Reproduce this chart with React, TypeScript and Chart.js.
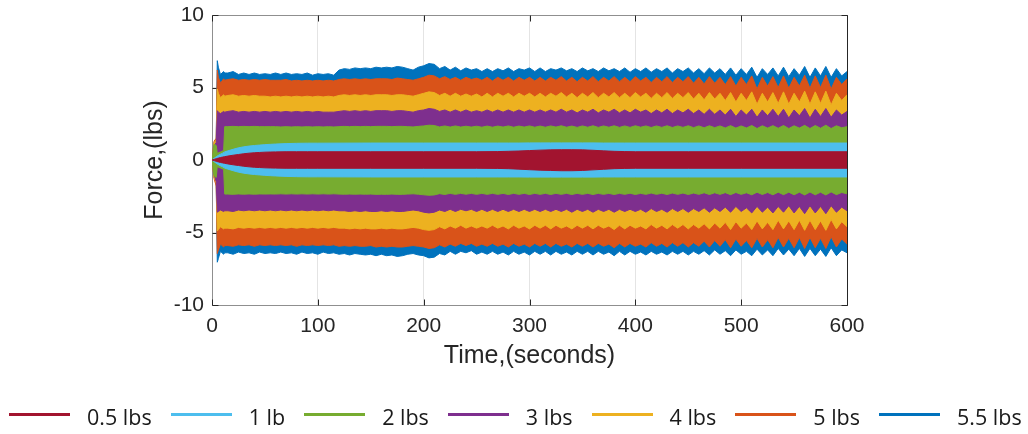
import React, { useEffect, useRef } from "react";
import { Chart, registerables } from "chart.js";

Chart.register(...registerables);

// ---------- data ----------
const SERIES_LABELS = ["0.5 lbs", "1 lb", "2 lbs", "3 lbs", "4 lbs", "5 lbs", "5.5 lbs"];
const SERIES_COLORS = ["#A2142F", "#4DBEEE", "#77AC30", "#7E2F8E", "#EDB120", "#D95319", "#0072BD"];

const X_TICKS = [0, 100, 200, 300, 400, 500, 600];
const Y_TICKS = [-10, -5, 0, 5, 10];

// time base (s) for the oscillating outer bands
const TIME = [0, 2, 4, 5, 6, 8, 11, 12,
  15, 20, 25, 30, 35, 40, 45, 50, 55, 60,
  65, 70, 75, 80, 85, 90, 95, 100, 105, 110,
  115, 120, 125, 130, 135, 140, 145, 150, 155, 160,
  165, 170, 175, 180, 185, 190, 195, 200, 205, 210,
  215, 220, 225, 230, 235, 240, 245, 250, 255, 260,
  265, 270, 275, 280, 285, 290, 295, 300, 305, 310,
  315, 320, 325, 330, 335, 340, 345, 350, 355, 360,
  365, 370, 375, 380, 385, 390, 395, 400, 405, 410,
  415, 420, 425, 430, 435, 440, 445, 450, 455, 460,
  465, 470, 475, 480, 485, 490, 495, 500, 505, 510,
  515, 520, 525, 530, 535, 540, 545, 550, 555, 560,
  565, 570, 575, 580, 585, 590, 595, 600];

// time base (s) for the smooth inner bands
const TIME_SMOOTH = [0, 2, 4, 6, 8, 10, 12, 15, 20, 25, 30, 35, 40, 45, 50, 55, 60, 70, 80, 90, 100,
  150, 200, 250, 270, 280, 290, 300, 310, 320, 330, 340, 350, 360, 370, 380, 390, 400, 450, 500, 550, 600];

// envelopes (lbs)
const F05_UP = [0, 0.04, 0.09, 0.13, 0.17, 0.2, 0.23, 0.27, 0.33, 0.38, 0.43, 0.47, 0.5, 0.52, 0.54, 0.55, 0.56, 0.57, 0.57, 0.57, 0.57,
  0.57, 0.57, 0.57, 0.58, 0.6, 0.62, 0.65, 0.68, 0.7, 0.71, 0.71, 0.7, 0.67, 0.63, 0.6, 0.58, 0.57, 0.57, 0.57, 0.57, 0.57];
const F05_LO = [0, -0.04, -0.09, -0.13, -0.17, -0.2, -0.23, -0.27, -0.33, -0.38, -0.43, -0.47, -0.5, -0.52, -0.54, -0.55, -0.56, -0.57, -0.57, -0.57, -0.57,
  -0.57, -0.57, -0.57, -0.58, -0.6, -0.63, -0.67, -0.7, -0.72, -0.74, -0.74, -0.72, -0.68, -0.64, -0.6, -0.58, -0.57, -0.57, -0.57, -0.57, -0.57];

const F1_UP = [0, 0.12, 0.22, 0.32, 0.4, 0.47, 0.56, 0.63, 0.74, 0.84, 0.91, 0.96, 1.0, 1.03, 1.06, 1.08, 1.1, 1.13, 1.15, 1.16, 1.16,
  1.17, 1.17, 1.17, 1.17, 1.17, 1.17, 1.18, 1.18, 1.18, 1.18, 1.18, 1.18, 1.18, 1.17, 1.17, 1.17, 1.17, 1.17, 1.17, 1.17, 1.17];
const F1_LO = [0, -0.12, -0.22, -0.32, -0.4, -0.47, -0.56, -0.63, -0.74, -0.84, -0.91, -0.96, -1.0, -1.03, -1.06, -1.08, -1.1, -1.13, -1.15, -1.16, -1.16,
  -1.17, -1.17, -1.17, -1.17, -1.17, -1.17, -1.18, -1.18, -1.18, -1.18, -1.18, -1.18, -1.18, -1.17, -1.17, -1.17, -1.17, -1.17, -1.17, -1.17, -1.17];

const F2_UP = [0, 1.1, 1.0, 0.45, 0.5, 0.55, 0.65, 2.3,
  2.3, 2.32, 2.3, 2.32, 2.3, 2.32, 2.3, 2.3, 2.3, 2.3,
  2.28, 2.3, 2.28, 2.3, 2.28, 2.3, 2.28, 2.3, 2.28, 2.3,
  2.28, 2.3, 2.32, 2.3, 2.32, 2.3, 2.32, 2.3, 2.32, 2.32,
  2.32, 2.3, 2.32, 2.32, 2.3, 2.28, 2.32, 2.35, 2.4, 2.38,
  2.28, 2.35, 2.27, 2.35, 2.27, 2.33, 2.27, 2.33, 2.26, 2.34,
  2.26, 2.34, 2.27, 2.35, 2.26, 2.34, 2.27, 2.35, 2.26, 2.34,
  2.26, 2.35, 2.27, 2.36, 2.26, 2.34, 2.25, 2.35, 2.26, 2.36,
  2.25, 2.35, 2.26, 2.36, 2.25, 2.35, 2.25, 2.36, 2.26, 2.35,
  2.24, 2.35, 2.25, 2.36, 2.24, 2.35, 2.25, 2.36, 2.23, 2.35,
  2.22, 2.36, 2.23, 2.35, 2.21, 2.37, 2.2, 2.35, 2.21, 2.38,
  2.17, 2.36, 2.2, 2.37, 2.19, 2.38, 2.17, 2.36, 2.2, 2.39,
  2.17, 2.38, 2.19, 2.4, 2.17, 2.36, 2.22, 2.3];
const F2_LO = [0, -1.1, -1.2, -0.45, -0.5, -0.55, -0.65, -2.35,
  -2.35, -2.37, -2.34, -2.36, -2.34, -2.36, -2.34, -2.35, -2.34, -2.35,
  -2.33, -2.35, -2.33, -2.35, -2.33, -2.35, -2.33, -2.35, -2.33, -2.35,
  -2.33, -2.35, -2.36, -2.35, -2.36, -2.35, -2.36, -2.35, -2.37, -2.36,
  -2.37, -2.35, -2.37, -2.37, -2.35, -2.33, -2.36, -2.4, -2.43, -2.41,
  -2.32, -2.38, -2.3, -2.37, -2.3, -2.36, -2.3, -2.37, -2.3, -2.37,
  -2.3, -2.37, -2.3, -2.38, -2.3, -2.37, -2.3, -2.38, -2.3, -2.37,
  -2.3, -2.38, -2.3, -2.37, -2.3, -2.38, -2.3, -2.37, -2.3, -2.38,
  -2.3, -2.37, -2.3, -2.38, -2.3, -2.37, -2.29, -2.38, -2.3, -2.37,
  -2.28, -2.37, -2.29, -2.38, -2.28, -2.37, -2.28, -2.38, -2.28, -2.37,
  -2.26, -2.38, -2.26, -2.37, -2.25, -2.39, -2.24, -2.37, -2.26, -2.4,
  -2.22, -2.38, -2.24, -2.4, -2.22, -2.39, -2.22, -2.4, -2.22, -2.41,
  -2.21, -2.4, -2.22, -2.41, -2.2, -2.39, -2.24, -2.33];

const F3_UP = [0, 1.0, 1.2, 3.4, 3.3, 3.2, 3.35, 3.3,
  3.35, 3.4, 3.3, 3.35, 3.3, 3.35, 3.3, 3.35, 3.3, 3.35,
  3.3, 3.35, 3.3, 3.35, 3.3, 3.35, 3.3, 3.35, 3.3, 3.3,
  3.3, 3.35, 3.4, 3.35, 3.4, 3.35, 3.4, 3.35, 3.4, 3.4,
  3.4, 3.35, 3.4, 3.4, 3.35, 3.3, 3.4, 3.45, 3.55, 3.5,
  3.35, 3.45, 3.3, 3.45, 3.3, 3.45, 3.3, 3.4, 3.3, 3.45,
  3.3, 3.45, 3.3, 3.45, 3.3, 3.45, 3.3, 3.45, 3.3, 3.45,
  3.3, 3.45, 3.3, 3.5, 3.3, 3.45, 3.25, 3.45, 3.3, 3.5,
  3.25, 3.45, 3.3, 3.5, 3.25, 3.45, 3.25, 3.5, 3.3, 3.45,
  3.2, 3.45, 3.25, 3.5, 3.2, 3.45, 3.25, 3.5, 3.2, 3.45,
  3.15, 3.5, 3.15, 3.45, 3.1, 3.5, 3.0, 3.45, 3.1, 3.5,
  2.95, 3.45, 3.05, 3.5, 3.0, 3.5, 2.9, 3.45, 3.05, 3.55,
  2.9, 3.5, 3.0, 3.55, 2.95, 3.45, 3.1, 3.35];
const F3_LO = [0, -1.0, -1.5, -3.6, -3.55, -3.45, -3.55, -3.5,
  -3.5, -3.55, -3.45, -3.5, -3.45, -3.5, -3.45, -3.5, -3.45, -3.5,
  -3.45, -3.5, -3.45, -3.5, -3.45, -3.5, -3.45, -3.5, -3.45, -3.5,
  -3.45, -3.5, -3.5, -3.55, -3.5, -3.55, -3.5, -3.55, -3.55, -3.5,
  -3.55, -3.5, -3.55, -3.55, -3.5, -3.45, -3.5, -3.6, -3.65, -3.6,
  -3.45, -3.55, -3.4, -3.55, -3.4, -3.5, -3.4, -3.55, -3.4, -3.55,
  -3.4, -3.55, -3.4, -3.55, -3.4, -3.55, -3.4, -3.55, -3.4, -3.55,
  -3.4, -3.55, -3.4, -3.55, -3.4, -3.6, -3.4, -3.55, -3.4, -3.6,
  -3.4, -3.55, -3.4, -3.6, -3.4, -3.55, -3.4, -3.55, -3.4, -3.6,
  -3.35, -3.55, -3.4, -3.6, -3.35, -3.55, -3.35, -3.6, -3.35, -3.55,
  -3.3, -3.6, -3.3, -3.55, -3.25, -3.6, -3.2, -3.55, -3.3, -3.65,
  -3.2, -3.6, -3.25, -3.65, -3.2, -3.6, -3.15, -3.65, -3.2, -3.7,
  -3.15, -3.65, -3.2, -3.7, -3.15, -3.6, -3.25, -3.5];

const F4_UP = [0, 1.2, 1.4, 4.9, 4.6, 4.3, 4.5, 4.4,
  4.45, 4.5, 4.4, 4.45, 4.4, 4.45, 4.4, 4.4, 4.35, 4.4,
  4.35, 4.4, 4.35, 4.4, 4.35, 4.4, 4.35, 4.4, 4.35, 4.4,
  4.35, 4.45, 4.5, 4.45, 4.5, 4.45, 4.5, 4.45, 4.5, 4.5,
  4.5, 4.45, 4.5, 4.5, 4.45, 4.4, 4.5, 4.6, 4.7, 4.65,
  4.45, 4.6, 4.4, 4.6, 4.4, 4.55, 4.4, 4.55, 4.35, 4.6,
  4.35, 4.6, 4.4, 4.6, 4.35, 4.6, 4.4, 4.6, 4.35, 4.6,
  4.35, 4.6, 4.4, 4.65, 4.35, 4.6, 4.3, 4.6, 4.35, 4.65,
  4.3, 4.6, 4.35, 4.65, 4.3, 4.6, 4.3, 4.65, 4.35, 4.6,
  4.25, 4.6, 4.3, 4.65, 4.25, 4.6, 4.3, 4.65, 4.2, 4.6,
  4.15, 4.65, 4.2, 4.6, 4.1, 4.65, 4.0, 4.6, 4.1, 4.7,
  3.85, 4.6, 4.0, 4.65, 3.9, 4.7, 3.85, 4.6, 4.0, 4.75,
  3.85, 4.7, 3.9, 4.75, 3.8, 4.6, 4.1, 4.5];
const F4_LO = [0, -1.2, -1.6, -4.9, -4.8, -4.6, -4.75, -4.7,
  -4.7, -4.75, -4.65, -4.7, -4.65, -4.7, -4.65, -4.7, -4.65, -4.7,
  -4.65, -4.7, -4.65, -4.7, -4.65, -4.7, -4.65, -4.7, -4.65, -4.7,
  -4.65, -4.7, -4.7, -4.75, -4.7, -4.75, -4.7, -4.75, -4.75, -4.7,
  -4.75, -4.7, -4.75, -4.75, -4.7, -4.65, -4.7, -4.8, -4.85, -4.8,
  -4.6, -4.75, -4.55, -4.7, -4.5, -4.7, -4.55, -4.7, -4.55, -4.7,
  -4.5, -4.7, -4.55, -4.75, -4.5, -4.7, -4.55, -4.75, -4.5, -4.7,
  -4.5, -4.75, -4.5, -4.7, -4.55, -4.75, -4.5, -4.7, -4.5, -4.75,
  -4.5, -4.7, -4.55, -4.8, -4.5, -4.75, -4.5, -4.7, -4.55, -4.75,
  -4.45, -4.7, -4.5, -4.75, -4.45, -4.7, -4.45, -4.75, -4.45, -4.7,
  -4.4, -4.75, -4.35, -4.7, -4.3, -4.8, -4.25, -4.7, -4.35, -4.8,
  -4.2, -4.75, -4.3, -4.8, -4.15, -4.75, -4.2, -4.8, -4.15, -4.85,
  -4.15, -4.8, -4.2, -4.85, -4.1, -4.75, -4.25, -4.6];

const F5_UP = [0, 1.3, 1.5, 6.2, 5.7, 5.3, 5.6, 5.5,
  5.55, 5.6, 5.5, 5.55, 5.5, 5.55, 5.5, 5.55, 5.5, 5.5,
  5.5, 5.55, 5.45, 5.5, 5.45, 5.5, 5.45, 5.5, 5.45, 5.5,
  5.45, 5.55, 5.6, 5.55, 5.6, 5.55, 5.6, 5.55, 5.6, 5.6,
  5.6, 5.55, 5.65, 5.6, 5.55, 5.5, 5.6, 5.7, 5.85, 5.8,
  5.6, 5.75, 5.55, 5.7, 5.5, 5.7, 5.55, 5.65, 5.5, 5.7,
  5.45, 5.7, 5.5, 5.7, 5.45, 5.7, 5.5, 5.7, 5.45, 5.7,
  5.45, 5.7, 5.5, 5.75, 5.45, 5.7, 5.4, 5.7, 5.45, 5.75,
  5.4, 5.7, 5.45, 5.75, 5.4, 5.7, 5.4, 5.75, 5.45, 5.7,
  5.35, 5.7, 5.4, 5.75, 5.35, 5.7, 5.4, 5.75, 5.3, 5.7,
  5.25, 5.75, 5.3, 5.7, 5.2, 5.75, 5.1, 5.7, 5.2, 5.8,
  4.9, 5.7, 5.1, 5.75, 5.0, 5.8, 4.95, 5.7, 5.1, 5.85,
  4.95, 5.8, 5.0, 5.85, 4.9, 5.7, 5.2, 5.6];
const F5_LO = [0, -1.3, -1.8, -6.45, -6.2, -5.8, -6.0, -5.9,
  -5.9, -5.95, -5.85, -5.9, -5.85, -5.95, -5.85, -5.9, -5.85, -5.9,
  -5.85, -5.9, -5.85, -5.95, -5.85, -5.9, -5.85, -5.9, -5.85, -5.9,
  -5.85, -5.95, -5.9, -5.95, -5.9, -5.95, -5.95, -5.9, -6.0, -5.95,
  -6.0, -5.95, -6.0, -6.0, -5.95, -5.9, -5.95, -6.0, -6.1, -6.05,
  -5.85, -6.0, -5.8, -5.95, -5.75, -5.9, -5.75, -5.95, -5.8, -5.95,
  -5.75, -5.95, -5.8, -6.0, -5.75, -5.95, -5.8, -6.0, -5.75, -5.95,
  -5.75, -6.0, -5.75, -5.95, -5.8, -6.0, -5.75, -5.95, -5.75, -6.0,
  -5.75, -5.95, -5.8, -6.05, -5.75, -6.0, -5.75, -5.95, -5.8, -6.0,
  -5.7, -5.95, -5.75, -6.0, -5.7, -5.95, -5.7, -6.0, -5.7, -5.95,
  -5.6, -6.0, -5.55, -5.95, -5.5, -6.05, -5.45, -5.95, -5.55, -6.05,
  -5.4, -6.0, -5.5, -6.05, -5.35, -6.0, -5.4, -6.05, -5.35, -6.1,
  -5.35, -6.05, -5.4, -6.1, -5.3, -6.0, -5.45, -5.8];

const F55_UP = [0, 1.2, 1.5, 6.85, 6.4, 5.9, 6.1, 6.0,
  6.0, 6.1, 5.9, 6.0, 5.9, 6.0, 5.9, 5.95, 5.9, 6.0,
  5.9, 6.0, 5.9, 5.95, 5.9, 6.0, 5.85, 5.95, 5.9, 5.95,
  5.85, 6.2, 6.3, 6.25, 6.35, 6.3, 6.35, 6.3, 6.4, 6.35,
  6.4, 6.35, 6.45, 6.4, 6.3, 6.2, 6.4, 6.5, 6.65, 6.6,
  6.3, 6.45, 6.2, 6.4, 6.15, 6.35, 6.2, 6.3, 6.1, 6.3,
  6.1, 6.3, 6.15, 6.35, 6.1, 6.3, 6.2, 6.35, 6.1, 6.35,
  6.1, 6.3, 6.2, 6.35, 6.15, 6.3, 6.1, 6.35, 6.15, 6.3,
  6.1, 6.35, 6.15, 6.3, 6.1, 6.35, 6.05, 6.3, 6.1, 6.35,
  6.05, 6.3, 6.1, 6.35, 6.0, 6.3, 6.1, 6.35, 6.0, 6.3,
  5.95, 6.35, 6.0, 6.3, 5.9, 6.35, 5.85, 6.3, 5.9, 6.4,
  5.7, 6.3, 5.9, 6.35, 5.8, 6.4, 5.75, 6.3, 5.85, 6.45,
  5.7, 6.35, 5.8, 6.45, 5.7, 6.3, 5.8, 6.1];
const F55_LO = [0, -1.2, -1.6, -7.05, -6.8, -6.3, -6.5, -6.4,
  -6.4, -6.5, -6.35, -6.45, -6.4, -6.5, -6.35, -6.45, -6.4, -6.45,
  -6.35, -6.45, -6.4, -6.5, -6.35, -6.45, -6.4, -6.5, -6.35, -6.45,
  -6.4, -6.5, -6.45, -6.55, -6.45, -6.5, -6.55, -6.5, -6.6, -6.5,
  -6.6, -6.55, -6.65, -6.6, -6.5, -6.45, -6.55, -6.6, -6.75, -6.7,
  -6.45, -6.55, -6.3, -6.5, -6.3, -6.4, -6.25, -6.5, -6.35, -6.5,
  -6.3, -6.5, -6.35, -6.55, -6.3, -6.5, -6.35, -6.55, -6.3, -6.5,
  -6.3, -6.55, -6.3, -6.5, -6.35, -6.55, -6.3, -6.5, -6.3, -6.55,
  -6.3, -6.5, -6.35, -6.6, -6.3, -6.55, -6.3, -6.5, -6.35, -6.55,
  -6.3, -6.5, -6.35, -6.55, -6.3, -6.5, -6.3, -6.55, -6.3, -6.5,
  -6.25, -6.55, -6.2, -6.5, -6.25, -6.6, -6.2, -6.5, -6.3, -6.6,
  -6.15, -6.55, -6.2, -6.6, -6.1, -6.55, -6.15, -6.6, -6.1, -6.65,
  -6.1, -6.6, -6.15, -6.65, -6.05, -6.6, -6.2, -6.4];

// per-series: [time base, upper envelope, lower envelope]
const SERIES_DATA: [number[], number[], number[]][] = [
  [TIME_SMOOTH, F05_UP, F05_LO],
  [TIME_SMOOTH, F1_UP, F1_LO],
  [TIME, F2_UP, F2_LO],
  [TIME, F3_UP, F3_LO],
  [TIME, F4_UP, F4_LO],
  [TIME, F5_UP, F5_LO],
  [TIME, F55_UP, F55_LO],
];

// ---------- styling ----------
const AXIS_FONT = "'Liberation Sans', Arial, sans-serif";
const LEGEND_FONT = "'Open Sans', 'Liberation Sans', sans-serif";
const TEXT_COLOR = "#262626";

const framePlugin = {
  id: "matlabFrame",
  beforeDatasetsDraw(chart: any) {
    const { ctx, chartArea: a, scales } = chart;
    const L = Math.round(a.left) + 0.5;
    const R = Math.round(a.right) + 0.5;
    const T = Math.round(a.top) + 0.5;
    const B = Math.round(a.bottom) + 0.5;
    ctx.save();
    ctx.lineWidth = 1;
    ctx.strokeStyle = "#8f8f8f";
    ctx.beginPath();
    ctx.moveTo(R, T);
    ctx.lineTo(L, T);
    ctx.lineTo(L, B);
    ctx.lineTo(R, B);
    ctx.stroke();
    ctx.strokeStyle = "#262626";
    ctx.beginPath();
    ctx.moveTo(R, T);
    ctx.lineTo(R, B);
    ctx.stroke();
    const len = 6;
    ctx.beginPath();
    X_TICKS.forEach((v) => {
      const x = Math.round(scales.x.getPixelForValue(v)) + 0.5;
      ctx.moveTo(x, B);
      ctx.lineTo(x, B - len);
      ctx.moveTo(x, T);
      ctx.lineTo(x, T + len);
    });
    Y_TICKS.forEach((v) => {
      const y = Math.round(scales.y.getPixelForValue(v)) + 0.5;
      ctx.moveTo(L, y);
      ctx.lineTo(L + len, y);
      ctx.moveTo(R, y);
      ctx.lineTo(R - len, y);
    });
    ctx.stroke();
    ctx.restore();
  },
};

export default function App() {
  const canvasRef = useRef<HTMLCanvasElement | null>(null);

  useEffect(() => {
    const canvas = canvasRef.current;
    if (!canvas) return;
    const datasets: any[] = [];
    SERIES_DATA.forEach(([t, up, lo], i) => {
      const color = SERIES_COLORS[i];
      datasets.push({
        label: SERIES_LABELS[i],
        data: t.map((x, k) => ({ x, y: up[k] })),
        borderColor: color,
        backgroundColor: color,
        borderWidth: 1,
        pointRadius: 0,
        tension: 0,
        fill: "+1",
      });
      datasets.push({
        label: SERIES_LABELS[i] + " (lower envelope)",
        data: t.map((x, k) => ({ x, y: lo[k] })),
        borderColor: color,
        backgroundColor: color,
        borderWidth: 1,
        pointRadius: 0,
        tension: 0,
        fill: false,
      });
    });

    const chart = new Chart(canvas, {
      type: "line",
      data: { datasets },
      options: {
        animation: false,
        responsive: false,
        devicePixelRatio: 1,
        layout: { padding: { left: 140, right: 181, top: 15, bottom: 63 } },
        plugins: {
          legend: { display: false },
          tooltip: { enabled: false },
        },
        scales: {
          x: {
            type: "linear",
            min: 0,
            max: 600,
            afterBuildTicks: (scale: any) => {
              scale.ticks = X_TICKS.map((v) => ({ value: v }));
            },
            afterFit: (scale: any) => {
              scale.height = 66;
              scale.paddingLeft = 0;
              scale.paddingRight = 0;
            },
            ticks: {
              font: { family: AXIS_FONT, size: 21 },
              color: TEXT_COLOR,
              padding: 9,
              maxRotation: 0,
            },
            grid: { color: "#e4e4e4", drawTicks: false, lineWidth: 1 },
            border: { display: false },
            title: {
              display: true,
              text: "Time,(seconds)",
              font: { family: AXIS_FONT, size: 25 },
              color: TEXT_COLOR,
              padding: { top: 2, bottom: 0 },
            },
          },
          y: {
            type: "linear",
            min: -10,
            max: 10,
            afterBuildTicks: (scale: any) => {
              scale.ticks = Y_TICKS.map((v) => ({ value: v }));
            },
            afterFit: (scale: any) => {
              scale.width = 72;
              scale.paddingTop = 0;
              scale.paddingBottom = 0;
            },
            ticks: {
              font: { family: AXIS_FONT, size: 21 },
              color: TEXT_COLOR,
              padding: 8,
            },
            grid: { color: "#e4e4e4", drawTicks: false, lineWidth: 1 },
            border: { display: false },
            title: {
              display: true,
              text: "Force,(lbs)",
              font: { family: AXIS_FONT, size: 25 },
              color: TEXT_COLOR,
              padding: { top: 0, bottom: 4 },
            },
          },
        },
      },
      plugins: [framePlugin],
    });
    return () => chart.destroy();
  }, []);

  return (
    <div
      style={{
        position: "fixed",
        left: 0,
        top: 0,
        width: 1028,
        height: 434,
        background: "#ffffff",
        overflow: "hidden",
      }}
    >
      <canvas
        ref={canvasRef}
        width={1028}
        height={434}
        style={{ position: "absolute", left: 0, top: 0, width: 1028, height: 434 }}
      />
      <div
        style={{
          position: "absolute",
          left: 9,
          top: 402,
          height: 30,
          display: "flex",
          alignItems: "flex-start",
          whiteSpace: "nowrap",
          fontFamily: LEGEND_FONT,
          fontSize: 21.5,
          lineHeight: "30px",
          color: "#1a1a1a",
        }}
      >
        {SERIES_LABELS.map((label, i) => (
          <div key={label} style={{ display: "flex", alignItems: "flex-start" }}>
            <div
              style={{
                width: 61,
                height: 3,
                marginTop: 11,
                background: SERIES_COLORS[i],
              }}
            />
            <span style={{ marginLeft: 17, marginRight: 19 }}>{label}</span>
          </div>
        ))}
      </div>
    </div>
  );
}
